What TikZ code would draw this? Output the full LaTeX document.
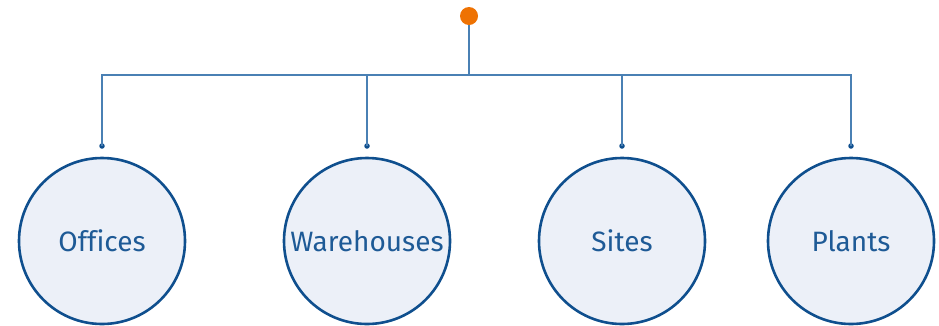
\documentclass[tikz,border=0pt]{standalone}
\usepackage{fontspec}
\setmainfont{Fira Sans}[Ligatures=NoCommon]
\definecolor{linec}{HTML}{4A80B4}
\definecolor{circb}{HTML}{0F4F8E}
\definecolor{circf}{HTML}{ECF0F8}
\definecolor{txt}{HTML}{1E5A96}
\definecolor{orng}{HTML}{EE7203}
\begin{document}
\begin{tikzpicture}[x=1pt,y=-1pt,
  cat/.style={circle,draw=circb,fill=circf,line width=2.6pt,minimum size=166pt,inner sep=0pt,text=txt,font=\fontsize{28}{32}\selectfont},
  conn/.style={draw=linec,line width=1.6pt},
  enddot/.style={circle,fill=circb,minimum size=5.5pt,inner sep=0pt}]
\useasboundingbox (0,0) rectangle (939,325);
\node[circle,fill=orng,minimum size=18pt,inner sep=0pt] (top) at (469,16) {};
\coordinate (hub) at (469,75);
\node[cat] (c1) at (102,241) {Offices};
\node[cat] (c2) at (367,241) {Warehouses};
\node[cat] (c3) at (622,241) {Sites};
\node[cat] (c4) at (851,241) {Plants};
\node[enddot] (d1) at (102,146) {};
\node[enddot] (d2) at (367,146) {};
\node[enddot] (d3) at (622,146) {};
\node[enddot] (d4) at (851,146) {};
\draw[conn] (top) -- (hub);
\draw[conn] (d1.center) |- (hub) -| (d4.center);
\draw[conn] (d2.center) -- (d2.center |- hub);
\draw[conn] (d3.center) -- (d3.center |- hub);
\end{tikzpicture}
\end{document}
